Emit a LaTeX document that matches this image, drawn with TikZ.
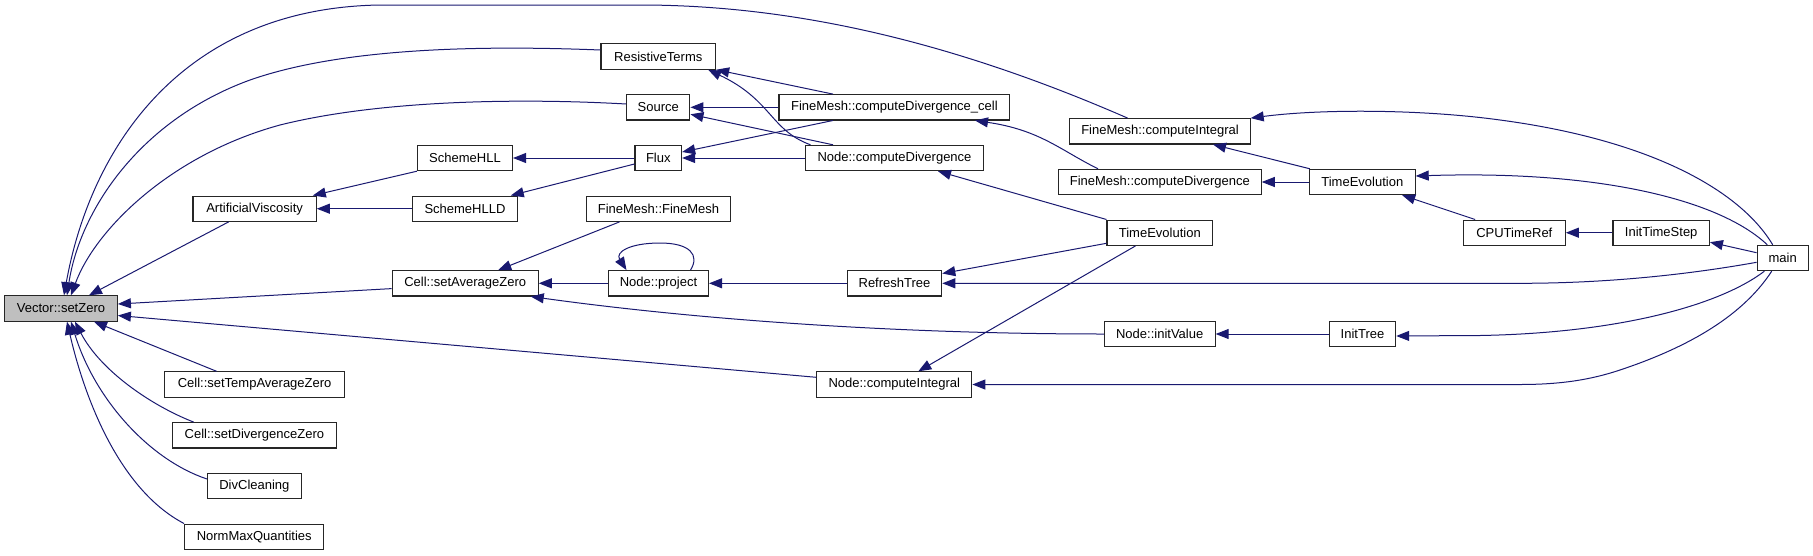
\documentclass[tikz,border=0pt]{standalone}
\usepackage{fontspec}
\setmainfont{Liberation Sans}
\usetikzlibrary{arrows.meta,calc}
\definecolor{edgec}{HTML}{191970}
\definecolor{boxfill}{HTML}{BFBFBF}
\begin{document}
\begin{tikzpicture}[x=1pt,y=-1pt,
  fn/.style={draw=black!85,line width=1.1pt,fill=white,minimum height=25.3pt,inner sep=0pt,font=\fontsize{13}{15}\selectfont},
  ed/.style={draw=edgec,line width=1pt,-{Triangle[length=13pt,width=10pt]}}]
\useasboundingbox (0,0) rectangle (1813,555);
% nodes
\node[fn,minimum width=112.7pt,fill=boxfill] (vz) at (61,308.5) {Vector::setZero};
\node[fn,minimum width=114.6pt] (rt) at (658.3,56.5) {ResistiveTerms};
\node[fn,minimum width=63.2pt] (src) at (658.3,107.3) {Source};
\node[fn,minimum width=46.6pt] (flux) at (658.3,158) {Flux};
\node[fn,minimum width=95pt] (hll) at (465,158) {SchemeHLL};
\node[fn,minimum width=104.4pt] (hlld) at (465,208.7) {SchemeHLLD};
\node[fn,minimum width=123.3pt] (av) at (254.6,208.7) {ArtificialViscosity};
\node[fn,minimum width=144.3pt] (fmfm) at (658.5,208.7) {FineMesh::FineMesh};
\node[fn,minimum width=146pt] (csaz) at (465.2,283.3) {Cell::setAverageZero};
\node[fn,minimum width=100pt] (np) at (658.5,283.3) {Node::project};
\node[fn,minimum width=94.5pt] (rft) at (894.5,283.3) {RefreshTree};
\node[fn,minimum width=230.9pt] (fmcdc) at (894.4,107.3) {FineMesh::computeDivergence\_cell};
\node[fn,minimum width=177.5pt] (ncd) at (894.5,158) {Node::computeDivergence};
\node[fn,minimum width=180.3pt] (fmci) at (1160,131.3) {FineMesh::computeIntegral};
\node[fn,minimum width=202.8pt] (fmcd) at (1159.8,182) {FineMesh::computeDivergence};
\node[fn,minimum width=105.6pt] (tel) at (1159.8,232.7) {TimeEvolution};
\node[fn,minimum width=105.7pt] (ter) at (1362.3,182) {TimeEvolution};
\node[fn,minimum width=101.9pt] (cpu) at (1514.3,232.7) {CPUTimeRef};
\node[fn,minimum width=96.4pt] (its) at (1661.2,232.7) {InitTimeStep};
\node[fn,minimum width=51.2pt] (main) at (1782.7,258) {main};
\node[fn,minimum width=110.8pt] (niv) at (1159.7,334) {Node::initValue};
\node[fn,minimum width=66.3pt] (it) at (1362.5,334) {InitTree};
\node[fn,minimum width=155pt] (nci) at (894.3,384.5) {Node::computeIntegral};
\node[fn,minimum width=179.5pt] (cstaz) at (254.6,384.5) {Cell::setTempAverageZero};
\node[fn,minimum width=163.3pt] (csdz) at (254.4,435.3) {Cell::setDivergenceZero};
\node[fn,minimum width=93.7pt] (dc) at (254.4,486) {DivCleaning};
\node[fn,minimum width=139.2pt] (nmq) at (254.2,536.7) {NormMaxQuantities};
% edges into Vector::setZero
\draw[ed] ($(fmci.north)+(-32.4,0)$) .. controls (960,45) and (800,5) .. (640,5) -- (380,5) .. controls (180,8) and (90,150) .. ($(vz.north)+(3,0)$);
\draw[ed] ($(rt.west)+(0,-6.5)$) .. controls (450,44) and (330,52) .. (250,80) .. controls (140,120) and (80,210) .. ($(vz.north)+(6,0)$);
\draw[ed] ($(src.west)+(0,-3.3)$) .. controls (520,98) and (380,100) .. (280,125) .. controls (170,155) and (95,230) .. ($(vz.north)+(10,0)$);
\draw[ed] ($(av.south)+(-26,0)$) -- ($(vz.north)+(28,0)$);
\draw[ed] ($(csaz.west)+(0,5.3)$) -- ($(vz.east)+(0,-4.5)$);
\draw[ed] ($(nci.west)+(0,-7.2)$) -- ($(vz.east)+(0,7)$);
\draw[ed] ($(cstaz.north)+(-38,0)$) -- ($(vz.south)+(33,0)$);
\draw[ed] ($(csdz.north)+(-60.7,0)$) .. controls (150,405) and (100,370) .. ($(vz.south)+(14,0)$);
\draw[ed] ($(dc.west)+(0,-7)$) .. controls (150,460) and (95,400) .. ($(vz.south)+(10,0)$);
\draw[ed] (nmq.north west) .. controls (120,490) and (85,400) .. ($(vz.south)+(6,0)$);
% middle edges
\draw[ed] (hll.south west) -- ($(av.north east)+(-4,0)$);
\draw[ed] (hlld.west) -- (av.east);
\draw[ed] (flux.west) -- (hll.east);
\draw[ed] ($(flux.west)+(0,6)$) -- ($(hlld.north east)+(-7,0)$);
\draw[ed] ($(fmcdc.north)+(-61.4,0)$) -- ($(rt.south east)+(0,0)$);
\draw[ed] ($(ncd.north)+(-84,0)$) .. controls (770,130) and (772,100) .. ($(rt.south east)+(-8,0)$);
\draw[ed] (fmcdc.west) -- (src.east);
\draw[ed] ($(ncd.north)+(-61.5,0)$) -- ($(src.east)+(0,7)$);
\draw[ed] ($(fmcdc.south)+(-61.5,0)$) -- ($(flux.east)+(0,-6)$);
\draw[ed] (ncd.west) -- (flux.east);
\draw[ed] ($(fmfm.south)+(-39,0)$) -- ($(csaz.north)+(33,0)$);
\draw[ed] (np.west) -- (csaz.east);
\draw[ed] (niv.west) .. controls (900,334) and (700,320) .. ($(csaz.south east)+(-8,0)$);
\draw[ed] ($(np.north)+(32,0)$) .. controls (700,255) and (690,243) .. (660,243) .. controls (630,243) and (615,252) .. ($(np.north)+(-32,0)$);
\draw[ed] (rft.west) -- (np.east);
\draw[ed] (tel.north west) -- ($(ncd.south)+(43.5,0)$);
\draw[ed] ($(fmcd.north)+(-61.8,0)$) .. controls (1060,150) and (1040,130) .. ($(fmcdc.south)+(80.6,0)$);
\draw[ed] ($(ter.north west)+(1,0)$) -- ($(fmci.south)+(53,0)$);
\draw[ed] ($(main.north)+(-10,0)$) .. controls (1740,190) and (1650,140) .. (1500,120) .. controls (1420,109) and (1320,109) .. (fmci.north east);
\draw[ed] (ter.west) -- (fmcd.east);
\draw[ed] ($(main.north)+(-15.4,0)$) .. controls (1720,200) and (1600,170) .. ($(ter.east)+(0,-6)$);
\draw[ed] ($(cpu.north west)+(12.3,0)$) -- ($(ter.south east)+(-13.5,0)$);
\draw[ed] (its.west) -- (cpu.east);
\draw[ed] ($(main.west)+(0,-5.3)$) -- ($(its.east)+(0,9.5)$);
\draw[ed] ($(tel.west)+(0,10.6)$) -- ($(rft.east)+(0,-9.8)$);
\draw[ed] ($(main.west)+(0,4.3)$) .. controls (1680,276) and (1600,283.3) .. (1520,283.3) -- (rft.east);
\draw[ed] ($(tel.south)+(-24.3,0)$) -- ($(nci.north)+(24,0)$);
\draw[ed] (it.west) -- (niv.east);
\draw[ed] ($(main.south)+(-18.3,0)$) .. controls (1720,305) and (1620,333) .. (1480,335.5) -- ($(it.east)+(0,2)$);
\draw[ed] ($(main.south)+(-11,0)$) .. controls (1740,320) and (1680,350) .. (1620,370) .. controls (1590,380) and (1560,384.5) .. (1520,384.5) -- (nci.east);
\end{tikzpicture}
\end{document}
